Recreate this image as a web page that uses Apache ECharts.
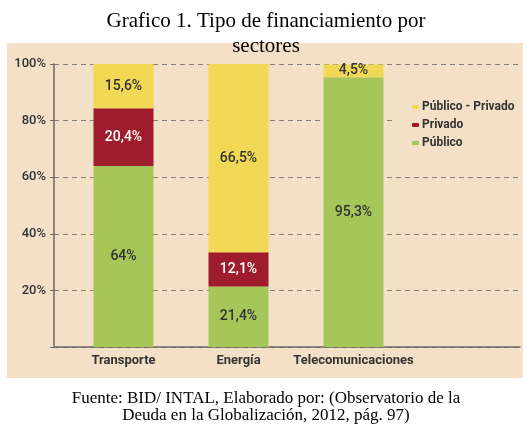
<!DOCTYPE html>
<html>
<head>
<meta charset="utf-8">
<script src="https://cdn.jsdelivr.net/npm/echarts@6/dist/echarts.min.js"></script>
<style>
  html, body { margin: 0; padding: 0; background: #fff; }
  #chart { width: 532px; height: 434px; }
</style>
</head>
<body>
<div id="chart"></div>
<script>
var sectores = ['Transporte', 'Energía', 'Telecomunicaciones'];
var publico = [64, 21.4, 95.3];
var privado = [20.4, 12.1, null];
var publicoPrivado = [15.6, 66.5, 4.5];
var yTicks = [0, 20, 40, 60, 80, 100];

var sans = "Roboto, 'Liberation Sans', sans-serif";
var serif = "'Liberation Serif', 'DejaVu Serif', serif";
var beige = '#f4e0c6';

function pct(p) {
  return String(p.value).replace('.', ',') + '%';
}

var myChart = echarts.init(document.getElementById('chart'));

var option = {
  animation: false,
  title: [{
    text: 'Grafico 1. Tipo de financiamiento por\nsectores',
    left: 'center',
    top: 4,
    textStyle: { fontFamily: serif, fontWeight: 'normal', fontSize: 21, lineHeight: 25, color: '#000' }
  }, {
    text: 'Fuente: BID/ INTAL, Elaborado por: (Observatorio de la\nDeuda en la Globalización, 2012, pág. 97)',
    left: 'center',
    top: 385,
    textStyle: { fontFamily: serif, fontWeight: 'normal', fontSize: 17, lineHeight: 17, color: '#000' }
  }],
  graphic: [{
    type: 'rect',
    z: -100,
    shape: { x: 7, y: 43, width: 516, height: 335 },
    style: { fill: beige }
  }],
  legend: {
    orient: 'vertical',
    left: 395,
    top: 95,
    padding: [6, 5, 6, 17],
    backgroundColor: beige,
    itemWidth: 7,
    itemHeight: 4,
    itemGap: 6,
    data: ['Público - Privado', 'Privado', 'Público'],
    textStyle: { fontFamily: sans, fontWeight: 'bold', fontSize: 12, color: '#333', padding: [0, 0, 0, -2] }
  },
  grid: [
    { left: 54, top: 64, width: 466, height: 283 },
    { left: 66, top: 64, width: 345, height: 283 }
  ],
  xAxis: [{
    type: 'category',
    gridIndex: 0,
    data: [],
    axisLine: { lineStyle: { color: '#6e6a66', width: 1.5 } },
    axisTick: { show: false },
    axisLabel: { show: false }
  }, {
    type: 'category',
    gridIndex: 1,
    data: sectores,
    axisLine: { show: false },
    axisTick: { show: false },
    axisLabel: { interval: 0, fontFamily: sans, fontWeight: 'bold', fontSize: 13, color: '#333', margin: 7 }
  }],
  yAxis: [{
    type: 'value',
    gridIndex: 0,
    min: yTicks[0],
    max: yTicks[yTicks.length - 1],
    interval: 20,
    axisLine: { show: true, lineStyle: { color: '#6e6a66', width: 1.5 } },
    axisTick: { show: true, length: 4, lineStyle: { color: '#6e6a66' } },
    splitLine: { lineStyle: { color: '#85807a', type: [5, 4], width: 1 } },
    axisLabel: {
      fontFamily: sans, fontWeight: 500, fontSize: 13, color: '#333', margin: 8,
      formatter: function (v) { return v === 0 ? '' : v + '%'; }
    }
  }, {
    type: 'value',
    gridIndex: 1,
    min: 0,
    max: 100,
    show: false,
    splitLine: { show: false }
  }],
  series: [{
    name: 'Público',
    type: 'bar',
    stack: 'total',
    xAxisIndex: 1,
    yAxisIndex: 1,
    barWidth: 60,
    data: publico,
    itemStyle: { color: '#a6c65a' },
    label: { show: true, formatter: pct, fontFamily: sans, fontWeight: 500, fontSize: 14, color: '#333' }
  }, {
    name: 'Privado',
    type: 'bar',
    stack: 'total',
    xAxisIndex: 1,
    yAxisIndex: 1,
    barWidth: 60,
    data: privado,
    itemStyle: { color: '#9e1c2b' },
    label: { show: true, formatter: pct, fontFamily: sans, fontWeight: 500, fontSize: 14, color: '#fff' }
  }, {
    name: 'Público - Privado',
    type: 'bar',
    stack: 'total',
    xAxisIndex: 1,
    yAxisIndex: 1,
    barWidth: 60,
    data: publicoPrivado,
    itemStyle: { color: '#f2d955' },
    label: { show: true, formatter: pct, fontFamily: sans, fontWeight: 500, fontSize: 14, color: '#333' }
  }]
};

myChart.setOption(option);
</script>
</body>
</html>
